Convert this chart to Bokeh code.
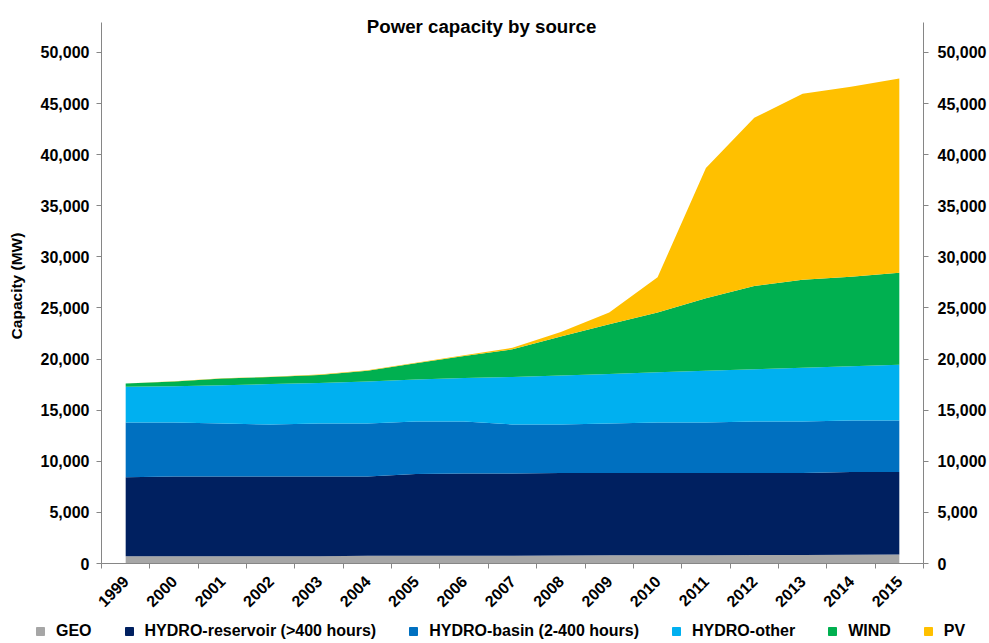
from math import pi
import numpy as np
from bokeh.plotting import figure
from bokeh.layouts import column
from bokeh.models import (ColumnDataSource, FixedTicker, NumeralTickFormatter,
                          LinearAxis, Legend, LegendItem, Label, Range1d)
from bokeh.embed import file_html
from bokeh.resources import INLINE

# ---- data ----
years = list(range(1999, 2016))
geo = [700, 700, 700, 700, 700, 750, 750, 750, 750, 780, 800, 800, 800, 820, 830, 850, 880]
hydro_reservoir = [7750, 7800, 7800, 7800, 7800, 7750, 8000, 8050, 8050, 8070, 8050, 8050, 8050, 8030, 8020, 8100, 8070]
hydro_basin = [5350, 5300, 5200, 5100, 5200, 5200, 5150, 5100, 4800, 4750, 4850, 4950, 4950, 5050, 5050, 5050, 5050]
hydro_other = [3500, 3550, 3750, 3950, 3950, 4100, 4100, 4250, 4650, 4800, 4850, 4900, 5050, 5100, 5250, 5300, 5450]
wind = [300, 450, 650, 700, 800, 1050, 1600, 2150, 2700, 3800, 4850, 5850, 7100, 8150, 8600, 8750, 9000]
pv = [20, 20, 20, 20, 30, 50, 50, 80, 150, 450, 1150, 3450, 12750, 16450, 18200, 18600, 19000]

series_names = ["GEO", "HYDRO-reservoir (>400 hours)", "HYDRO-basin (2-400 hours)",
                "HYDRO-other", "WIND", "PV"]
series_keys = ["geo", "res", "basin", "other", "wind", "pv"]
colors = ["#A6A6A6", "#002060", "#0070C0", "#00B0F0", "#00B050", "#FFC000"]
y_ticks = list(range(0, 50001, 5000))
Y_AXIS_MAX = 52930

FONT = "Liberation Sans"
AXIS_COLOR = "#868686"

probe = figure()
HAS_FRAME_ALIGN = "frame_align" in probe.properties()

src = ColumnDataSource(dict(x=years, geo=geo, res=hydro_reservoir, basin=hydro_basin,
                            other=hydro_other, wind=wind, pv=pv))

chart_h = 615 if HAS_FRAME_ALIGN else 643
p = figure(width=989, height=chart_h, output_backend="svg", toolbar_location=None,
           x_range=Range1d(years[0] - 0.5, years[-1] + 0.5),
           y_range=Range1d(0, 54297),
           min_border_left=101, min_border_right=66, min_border_top=8,
           min_border_bottom=chart_h - 564)
p.outline_line_color = None
p.xgrid.visible = False
p.ygrid.visible = False

p.varea_stack(stackers=series_keys, x="x", color=colors, source=src)

# ---- axes ----
def style_axis(ax):
    ax.axis_line_color = AXIS_COLOR
    ax.major_tick_line_color = AXIS_COLOR
    ax.minor_tick_line_color = AXIS_COLOR
    ax.major_label_text_font = FONT
    ax.major_label_text_font_size = "16px"
    ax.major_label_text_font_style = "bold"
    ax.major_label_text_color = "black"

xa = p.xaxis[0]
xa.ticker = FixedTicker(ticks=years, minor_ticks=[y - 0.5 for y in years] + [years[-1] + 0.5])
style_axis(xa)
xa.major_tick_out = 0
xa.major_tick_in = 0
xa.minor_tick_out = 5
xa.minor_tick_in = 0
xa.major_label_orientation = pi / 4
xa.major_label_standoff = 10

ya = p.yaxis[0]
ya.ticker = FixedTicker(ticks=y_ticks)
ya.formatter = NumeralTickFormatter(format="0,0")
ya.bounds = (0, Y_AXIS_MAX)
style_axis(ya)
ya.major_tick_out = 5
ya.major_tick_in = 0
ya.minor_tick_out = 0
ya.minor_tick_in = 0
ya.major_label_standoff = 7
ya.axis_label = "Capacity (MW)"
ya.axis_label_text_font = FONT
ya.axis_label_text_font_size = "15.5px"
ya.axis_label_text_font_style = "bold"
ya.axis_label_text_color = "black"
ya.axis_label_standoff = 13

ra = LinearAxis(ticker=FixedTicker(ticks=y_ticks), formatter=NumeralTickFormatter(format="0,0"),
                bounds=(0, Y_AXIS_MAX))
style_axis(ra)
ra.major_tick_out = 5
ra.major_tick_in = 0
ra.minor_tick_out = 0
ra.minor_tick_in = 0
ra.major_label_standoff = 9
p.add_layout(ra, "right")

# ---- title ----
p.add_layout(Label(x=2006.36, y=52540, text="Power capacity by source",
                   text_font=FONT, text_font_size="18.7px", text_font_style="bold",
                   text_color="black", text_align="center", text_baseline="alphabetic"))

# ---- legend ----
legend_kw = dict(orientation="horizontal", glyph_width=20, glyph_height=20,
                 label_standoff=6, spacing=27, padding=0, margin=0,
                 border_line_color=None, background_fill_alpha=0,
                 label_text_font=FONT, label_text_font_size="16px",
                 label_text_font_style="bold", label_text_color="black")

if HAS_FRAME_ALIGN:
    p.frame_align = False
    pl = figure(width=989, height=643 - chart_h, output_backend="svg", toolbar_location=None,
                x_axis_type=None, y_axis_type=None, x_range=Range1d(0, 1), y_range=Range1d(0, 1),
                min_border=0)
    pl.frame_align = False
    pl.outline_line_color = None
    pl.xgrid.visible = False
    pl.ygrid.visible = False
    host = pl
else:
    host = p

items = []
for name, c in zip(series_names, colors):
    r = host.scatter(x=np.array([np.nan]), y=np.array([np.nan]), marker="square", size=8,
                     fill_color=c, line_color=c)
    items.append(LegendItem(label=name, renderers=[r]))

if HAS_FRAME_ALIGN:
    legend = Legend(items=items, location=(30, 2), **legend_kw)
    pl.add_layout(legend)
    root = column(p, pl, spacing=0)
else:
    legend_kw["margin"] = 5
    legend = Legend(items=items, location="center", **legend_kw)
    p.add_layout(legend, "below")
    root = p

open("out.html", "w").write(file_html(root, INLINE))
